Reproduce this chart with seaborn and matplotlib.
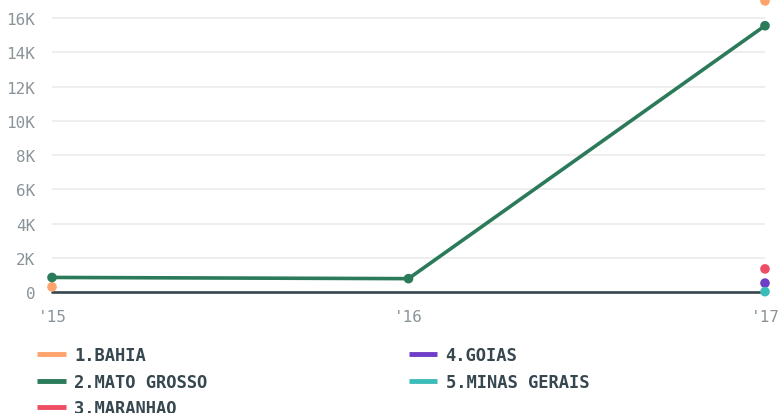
import numpy as np
import pandas as pd
import matplotlib.pyplot as plt
import seaborn as sns
from matplotlib.lines import Line2D
from matplotlib.ticker import FuncFormatter

# data
years = ["'15", "'16", "'17"]
states = ["1.BAHIA", "2.MATO GROSSO", "3.MARANHAO", "4.GOIAS", "5.MINAS GERAIS"]
bahia = [300, np.nan, 17000]
mato_grosso = [850, 780, 15550]
maranhao = [np.nan, np.nan, 1350]
goias = [np.nan, np.nan, 520]
minas_gerais = [np.nan, np.nan, 20]
colors = ["#ffa36c", "#2b7a5a", "#ee4e65", "#6e3ec8", "#3cbcb8"]

series = [bahia, mato_grosso, maranhao, goias, minas_gerais]
rows = []
for name, vals in zip(states, series):
    for i, v in enumerate(vals):
        rows.append({"state": name, "x": i, "value": v})
df = pd.DataFrame(rows)

sns.set_style("white")
fig = plt.figure(figsize=(7.78, 4.14), dpi=100)
ax = fig.add_axes([52 / 778, 121 / 414, 713 / 778, 293 / 414])

palette = dict(zip(states, colors))

# lines only where consecutive values exist
for name in states:
    sub = df[df.state == name].reset_index(drop=True)
    valid = sub["value"].notna()
    run_id = (~valid).cumsum()
    for _, seg in sub[valid].groupby(run_id[valid]):
        if len(seg) > 1:
            sns.lineplot(data=seg, x="x", y="value", color=palette[name], lw=2.6,
                         ax=ax, legend=False, zorder=3)

ax.axhline(0, color="#37474f", lw=1.9, zorder=2.5, clip_on=False)

pts = df.dropna(subset=["value"])
sns.scatterplot(data=pts, x="x", y="value", hue="state", palette=palette,
                s=48, edgecolor="none", ax=ax, legend=False, zorder=4, clip_on=False)

ax.set_xlim(0, 2)
ax.set_ylim(0, 17110)
ax.set_yticks(np.arange(0, 16001, 2000))
ax.yaxis.set_major_formatter(FuncFormatter(lambda v, p: "0" if v == 0 else f"{int(v/1000)}K"))
ax.set_xticks(range(len(years)))
ax.set_xticklabels(years)
ax.grid(axis="y", color="#ebebeb", lw=1.2)
ax.set_axisbelow(True)
for s in ax.spines.values():
    s.set_visible(False)
ax.tick_params(length=0, labelsize=11.5, labelcolor="#8a9499")
ax.tick_params(axis="y", pad=12)
ax.tick_params(axis="x", pad=12)
for lab in ax.get_xticklabels() + ax.get_yticklabels():
    lab.set_family("DejaVu Sans Mono")
ax.set_xlabel("")
ax.set_ylabel("")

handles = [Line2D([0], [0], color=c, lw=3.5, solid_capstyle="butt") for c in colors]
leg = fig.legend(handles, states, loc="upper left", bbox_to_anchor=(22 / 778, 1 - 332 / 414),
                 ncol=2, frameon=False, handlelength=1.65, handletextpad=0.5,
                 columnspacing=11.8, labelspacing=0.5,
                 prop={"family": "DejaVu Sans Mono", "weight": "bold", "size": 12.3})
for t in leg.get_texts():
    t.set_color("#37474f")

fig.savefig("out.png", dpi=100)
